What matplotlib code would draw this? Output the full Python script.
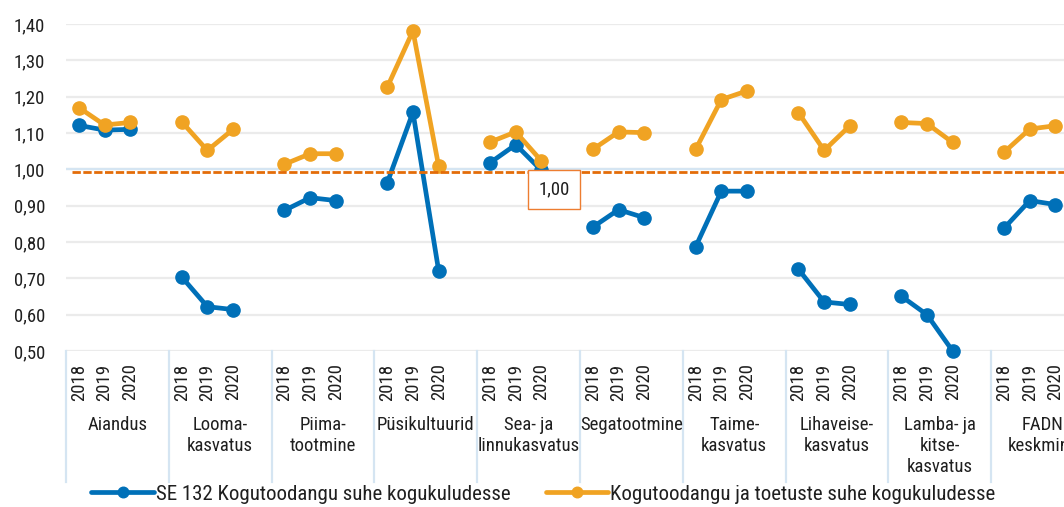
import numpy as np
import matplotlib
matplotlib.use("Agg")
import matplotlib.pyplot as plt
from matplotlib.lines import Line2D
import matplotlib.transforms as mtransforms
from matplotlib import font_manager

# ---------------- data ----------------
years = ['2018', '2019', '2020']
groups = ['Aiandus', 'Looma-\nkasvatus', 'Piima-\ntootmine', 'Püsikultuurid',
          'Sea- ja\nlinnukasvatus', 'Segatootmine', 'Taime-\nkasvatus',
          'Lihaveise-\nkasvatus', 'Lamba- ja\nkitse-\nkasvatus', 'FADN\nkeskmine']

se132 = [[1.121, 1.108, 1.110],
         [0.704, 0.622, 0.614],
         [0.887, 0.922, 0.914],
         [0.963, 1.157, 0.721],
         [1.018, 1.068, 0.997],
         [0.841, 0.889, 0.867],
         [0.787, 0.940, 0.940],
         [0.725, 0.635, 0.628],
         [0.651, 0.600, 0.500],
         [0.838, 0.914, 0.903]]

with_support = [[1.170, 1.122, 1.129],
                [1.131, 1.052, 1.110],
                [1.014, 1.043, 1.043],
                [1.226, 1.381, 1.009],
                [1.075, 1.103, 1.023],
                [1.055, 1.103, 1.101],
                [1.055, 1.192, 1.216],
                [1.156, 1.052, 1.120],
                [1.129, 1.126, 1.074],
                [1.047, 1.111, 1.120]]

reference_level = 0.992
label_text = '1,00'

series_names = ['SE 132 Kogutoodangu suhe kogukuludesse',
                'Kogutoodangu ja toetuste suhe kogukuludesse']

# ---------------- fonts ----------------
available = {f.name for f in font_manager.fontManager.ttflist}
if 'Roboto Condensed' in available:
    main_font, narrow = 'Roboto Condensed', True
elif 'Liberation Sans Narrow' in available:
    main_font, narrow = 'Liberation Sans Narrow', True
else:
    main_font, narrow = 'Roboto', False
plt.rcParams['font.family'] = [main_font, 'DejaVu Sans']

if narrow:
    FS_TICK, FS_YEAR, FS_GRP, FS_LEG = 13.5, 13.5, 13.5, 15.0
    leg_family = [main_font, 'DejaVu Sans']
else:
    FS_TICK, FS_YEAR, FS_GRP, FS_LEG = 13.0, 12.0, 12.0, 13.5
    leg_family = ['Roboto', 'DejaVu Sans']

# ---------------- layout ----------------
W, H = 1064, 507
fig = plt.figure(figsize=(W / 100, H / 100), dpi=100)
left_px, right_px, top_px, bot_px = 66, 1094, 24, 351
ax = fig.add_axes([left_px / W, 1 - bot_px / H, (right_px - left_px) / W, (bot_px - top_px) / H])

slots = len(years) + 1
n = len(groups) * slots


def to_slots(values):
    arr = np.full(n, np.nan)
    for g, vals in enumerate(values):
        for i, v in enumerate(vals):
            arr[g * slots + i] = v
    return arr


x = np.arange(n)
blue = '#0070B8'
orange = '#F0A323'
dash_col = '#E36C09'
sep_col = '#D5E5F2'
grid_col = '#EBEBEB'
txt_col = '#1F1F1F'

ax.plot(x, to_slots(se132), color=blue, lw=3.4, marker='o', ms=9.5, zorder=3,
        label=series_names[0], solid_capstyle='round', clip_on=False)
ax.plot(x, to_slots(with_support), color=orange, lw=3.4, marker='o', ms=9.5, zorder=4,
        label=series_names[1], solid_capstyle='round', clip_on=False)

ax.plot([-0.25, n], [reference_level, reference_level], color=dash_col, lw=2.0,
        dashes=(3.0, 0.9), zorder=5, clip_on=False)

ax.set_xlim(-0.5, n - 0.5)
ax.set_ylim(0.5, 1.4)
yt = np.round(np.arange(0.5, 1.401, 0.1), 2)
ax.set_yticks(yt)
ax.set_yticklabels([f'{v:.2f}'.replace('.', ',') for v in yt], fontsize=FS_TICK, color=txt_col)
ax.tick_params(axis='y', length=0, pad=15)
ax.yaxis.grid(True, color=grid_col, lw=1.6, zorder=0)
ax.set_axisbelow(True)
ax.axhline(1.0, color=sep_col, lw=1.6, zorder=1)
for s in ax.spines.values():
    s.set_visible(False)

# year tick labels
tick_pos = [g * slots + i for g in range(len(groups)) for i in range(len(years))]
ax.set_xticks(tick_pos)
ax.set_xticklabels(years * len(groups), rotation=90, fontsize=FS_YEAR, color=txt_col)
ax.tick_params(axis='x', length=0, pad=9)

trans = mtransforms.blended_transform_factory(ax.transData, ax.transAxes)
ax_h = bot_px - top_px
sep_bottom = -(482 - bot_px) / ax_h
for g in range(len(groups) + 1):
    xs = g * slots - 0.5
    ax.add_line(Line2D([xs, xs], [0, sep_bottom], transform=trans, color=sep_col,
                       lw=1.6, clip_on=False))

grp_top = -(416 - bot_px) / ax_h
for g, name in enumerate(groups):
    xc = g * slots + (slots - 1) / 2
    ax.text(xc, grp_top, name, transform=trans, ha='center', va='top',
            multialignment='center', fontsize=FS_GRP, linespacing=1.22, color=txt_col)

# annotation box
ax.text(4 * slots + 2.5, 0.945, label_text, ha='center', va='center', fontsize=FS_TICK,
        color=txt_col, zorder=6,
        bbox=dict(boxstyle='square,pad=0.55', fc='white', ec='#ED7D31', lw=1.0))

leg = fig.legend(loc='center', bbox_to_anchor=(543.5 / W, (H - 494) / H), ncol=2,
                 frameon=False, prop={'family': leg_family, 'size': FS_LEG},
                 handlelength=3.0, handletextpad=0.1,
                 columnspacing=1.7, markerscale=0.8)
for t in leg.get_texts():
    t.set_color(txt_col)

fig.savefig('out.png', dpi=100)
